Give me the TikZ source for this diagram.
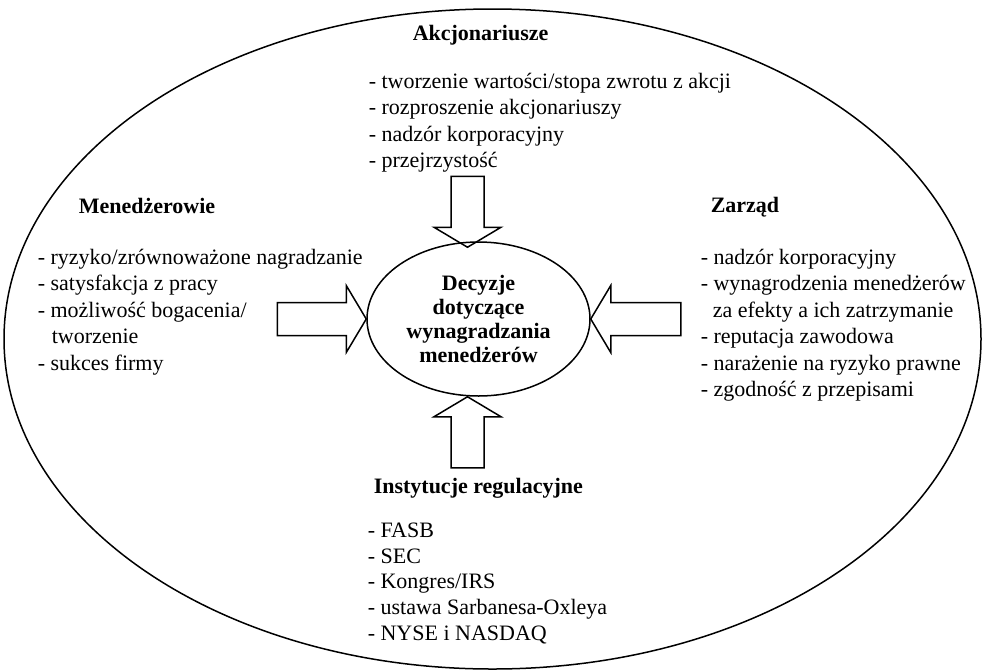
\documentclass[tikz,border=0pt]{standalone}
\usepackage{fontspec}
\setmainfont{Liberation Serif}
\usetikzlibrary{shapes.geometric}

\begin{document}
\begin{tikzpicture}[x=1pt,y=-1pt,line width=1.5pt,head node/.style={inner sep=0pt,anchor=base west,font=\fontsize{22}{24}\selectfont\bfseries},list node/.style={inner sep=0pt,anchor=north west,align=left,font=\fontsize{22}{26.5}\selectfont},fat arrow/.pic={\draw (0,0) -- (-20,-33.5) -- (-20,-16.5) -- (-#1,-16.5) -- (-#1,16.5) -- (-20,16.5) -- (-20,33.5) -- cycle;}]
            \useasboundingbox (0,0) rectangle (982,670);
            \node[ellipse,draw,minimum width=977pt,minimum height=660pt] (frame) at (492.5,339) {};

            \node[ellipse,draw,inner sep=0pt,minimum width=223pt,minimum height=154pt,align=center,font=\fontsize{22}{24.3}\selectfont\bfseries] (dec) at (478.5,319) {Decyzje\\dotyczące\\wynagradzania\\menedżerów};

            \node[head node] (akc) at (412,40) {Akcjonariusze};
            \node[list node] (akclist) at (368,72) {- tworzenie wartości/stopa zwrotu z akcji\\- rozproszenie akcjonariuszy\\- nadzór korporacyjny\\- przejrzystość};

            \node[head node] (men) at (78,213) {Menedżerowie};
            \node[list node] (menlist) at (37,248) {- ryzyko/zrównoważone nagradzanie\\- satysfakcja z pracy\\- możliwość bogacenia/\\\hspace*{14pt}tworzenie\\- sukces firmy};

            \node[head node] (zar) at (710,212) {Zarząd};
            \node[list node] (zarlist) at (700,248) {- nadzór korporacyjny\\- wynagrodzenia menedżerów\\\hspace*{12pt}za efekty a ich zatrzymanie\\- reputacja zawodowa\\- narażenie na ryzyko prawne\\- zgodność z przepisami};

            \node[head node] (ins) at (373,493) {Instytucje regulacyjne};
            \node[list node,font=\fontsize{22}{25.8}\selectfont] (inslist) at (367,522) {- FASB\\- SEC\\- Kongres/IRS\\- ustawa Sarbanesa-Oxleya\\- NYSE i NASDAQ};

            \pic[rotate=-90] at ([xshift=-11pt,yshift=-6pt]dec.north) {fat arrow=71};
            \pic[rotate=90] at ([xshift=-11pt]dec.south) {fat arrow=71};
            \pic at (dec.west) {fat arrow=89};
            \pic[rotate=180] at (dec.east) {fat arrow=90};
        \end{tikzpicture}
\end{document}
